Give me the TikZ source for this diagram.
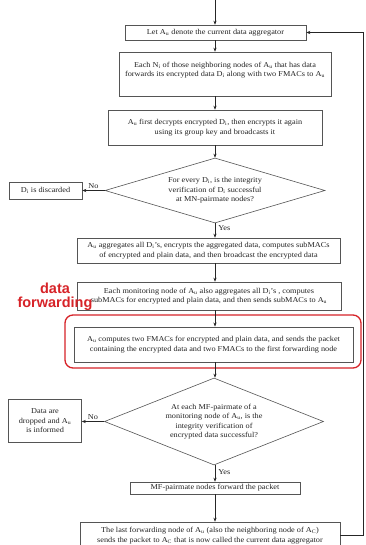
\documentclass[tikz,border=0pt]{standalone}
\usepackage{fontspec}
\setmainfont{Liberation Serif}[FakeStretch=1.1]
\newfontfamily\redsans{Liberation Sans}
\usetikzlibrary{shapes.geometric,arrows.meta}
\definecolor{boxgray}{RGB}{85,85,85}
\definecolor{txtgray}{RGB}{35,35,35}
\definecolor{hlred}{RGB}{215,35,40}
\tikzset{
  flowbox/.style={draw=boxgray, line width=0.6pt, rectangle, inner sep=0pt, align=center,
    text=txtgray, font=\fontsize{7.5}{9.5}\selectfont},
  decision/.style={draw=boxgray, line width=0.6pt, diamond, inner sep=0pt, align=center,
    text=txtgray, font=\fontsize{7.5}{9.5}\selectfont},
  flowarrow/.style={draw=black!85, line width=0.6pt, -{Stealth[length=4pt,width=3.2pt]}},
  flowlabel/.style={text=txtgray, font=\fontsize{7.5}{9}\selectfont, inner sep=1pt},
  hilite/.style={draw=hlred, line width=1.3pt, rounded corners=8pt},
  hilabel/.style={text=hlred, align=center, font=\redsans\bfseries\fontsize{14.5}{13.5}\selectfont}
}
\begin{document}
\begin{tikzpicture}[x=1pt,y=-1pt]
\clip (0,0) rectangle (365,545);
\fill[white] (0,0) rectangle (365,545);

\coordinate (start) at (215,0);
\node[flowbox, minimum width=181pt, minimum height=15pt] (b1) at (215.5,32.5)
  {Let A\textsubscript{u} denote the current data aggregator};
\node[flowbox, minimum width=212pt, minimum height=44pt] (b2) at (225,74)
  {Each N\textsubscript{i} of those neighboring nodes of A\textsubscript{u} that has data\\
   forwards its encrypted data D\textsubscript{i} along with two FMACs to A\textsubscript{u}\\ \mbox{}};
\node[flowbox, minimum width=214pt, minimum height=35pt] (b3) at (215,127.5)
  {A\textsubscript{u} first decrypts encrypted D\textsubscript{i}, then encrypts it again\\
   using its group key and broadcasts it};
\node[decision, aspect=3.4, minimum width=220pt, minimum height=65pt] (d1) at (215,190.5)
  {For every D\textsubscript{i}, is the integrity\\
   verification of D\textsubscript{i} successful\\
   at MN-pairmate nodes?};
\node[flowbox, minimum width=73pt, minimum height=17pt] (disc) at (45.5,190.5)
  {D\textsubscript{i} is discarded};
\node[flowbox, minimum width=263pt, minimum height=25pt] (b4) at (208.5,250.5)
  {A\textsubscript{u} aggregates all D\textsubscript{i}'s, encrypts the aggregated data, computes subMACs\\
   of encrypted and plain data, and then broadcast the encrypted data};
\node[flowbox, minimum width=264pt, minimum height=28pt] (b5) at (209,296)
  {Each monitoring node of A\textsubscript{u} also aggregates all D\textsubscript{i}'s , computes\\
   subMACs for encrypted and plain data, and then sends subMACs to A\textsubscript{u}};
\draw[hilite] (65,315) rectangle (361,368);
\node[flowbox, line width=0.9pt, minimum width=279pt, minimum height=35pt] (b6) at (213.5,344.5)
  {A\textsubscript{u} computes two FMACs for encrypted and plain data, and sends the packet\\
   containing the encrypted data and two FMACs to the first forwarding node};
\node[hilabel] (hl) at (55,297) {data\\forwarding};
\node[decision, aspect=2.5, minimum width=219pt, minimum height=87pt] (d2) at (214,421.5)
  {At each MF-pairmate of a\\
   monitoring node of A\textsubscript{u}, is the\\
   integrity verification of\\
   encrypted data successful?};
\node[flowbox, minimum width=73pt, minimum height=43pt] (drop) at (45,421)
  {Data are\\ dropped and A\textsubscript{u}\\ is informed};
\node[flowbox, minimum width=170pt, minimum height=12pt] (b7) at (215,488)
  {MF-pairmate nodes forward the packet};
\node[flowbox, minimum width=260pt, minimum height=27pt] (b8) at (210,535.5)
  {The last forwarding node of A\textsubscript{u} (also the neighboring node of A\textsubscript{C})\\
   sends the packet to A\textsubscript{C} that is now called the current data aggregator};
\coordinate (fb) at (363,535.5);

\draw[flowarrow] (start) -- (start |- b1.north);
\draw[flowarrow] (b1.south -| start) -- (start |- b2.north);
\draw[flowarrow] (b2.south -| start) -- (start |- b3.north);
\draw[flowarrow] (b3.south -| start) -- (d1.north);
\draw[flowarrow] (d1.south) -- (d1.south |- b4.north) node[flowlabel, pos=0.35, right=2pt] {Yes};
\draw[flowarrow] (d1.west) -- (disc.east) node[flowlabel, midway, above=1pt] {No};
\draw[flowarrow] (b4.south -| start) -- (start |- b5.north);
\draw[flowarrow] (b5.south -| start) -- (start |- b6.north);
\draw[flowarrow] (b6.south -| start) -- (start |- d2.north);
\draw[flowarrow] (d2.west) -- (d2.west -| drop.east) node[flowlabel, midway, above=1pt] {No};
\draw[flowarrow] (d2.south -| start) -- (start |- b7.north) node[flowlabel, pos=0.4, right=2pt] {Yes};
\draw[flowarrow] (b7.south -| start) -- (start |- b8.north);
\draw[flowarrow] (b8.east) -- (fb) |- (b1.east);
\end{tikzpicture}
\end{document}
